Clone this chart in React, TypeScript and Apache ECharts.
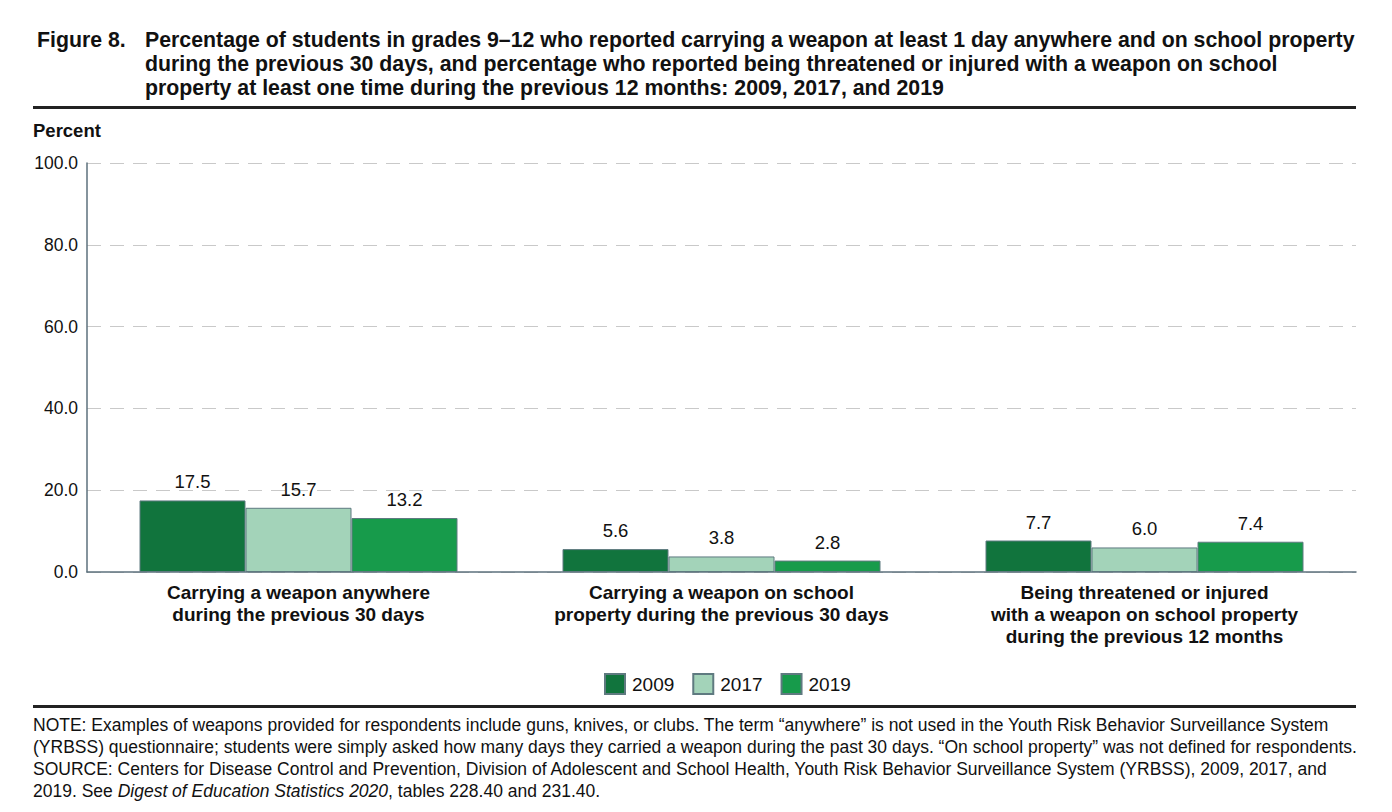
import React, { useEffect, useRef } from "react";
import * as echarts from "echarts";

const categories = [
  "Carrying a weapon anywhere\nduring the previous 30 days",
  "Carrying a weapon on school\nproperty during the previous 30 days",
  "Being threatened or injured\nwith a weapon on school property\nduring the previous 12 months",
];
const seriesNames = ["2009", "2017", "2019"];
const values2009 = [17.5, 5.6, 7.7];
const values2017 = [15.7, 3.8, 6.0];
const values2019 = [13.2, 2.8, 7.4];
const seriesColors = ["#11743d", "#a3d3b9", "#179b4b"];

const titleLines = [
  "Percentage of students in grades 9–12 who reported carrying a weapon at least 1 day anywhere and on school property",
  "during the previous 30 days, and percentage who reported being threatened or injured with a weapon on school",
  "property at least one time during the previous 12 months: 2009, 2017, and 2019",
];
const noteLines = [
  "NOTE: Examples of weapons provided for respondents include guns, knives, or clubs. The term “anywhere” is not used in the Youth Risk Behavior Surveillance System",
  "(YRBSS) questionnaire; students were simply asked how many days they carried a weapon during the past 30 days. “On school property” was not defined for respondents.",
  "SOURCE: Centers for Disease Control and Prevention, Division of Adolescent and School Health, Youth Risk Behavior Surveillance System (YRBSS), 2009, 2017, and",
];

const FONT = "'Liberation Sans', Arial, sans-serif";

export default function App() {
  const ref = useRef<HTMLDivElement>(null);
  useEffect(() => {
    document.body.style.margin = "0";
    const chart = echarts.init(ref.current!, null, { renderer: "svg" });
    const data = [values2009, values2017, values2019];
    const axisColor = "#5d717d";
    chart.setOption({
      animation: false,
      textStyle: { fontFamily: FONT },
      grid: { left: 87, right: 36, top: 163, bottom: 240 },
      legend: {
        data: seriesNames,
        left: 604,
        top: 673,
        padding: 0,
        itemWidth: 20,
        itemHeight: 20,
        itemGap: 18,
        icon: "rect",
        textStyle: { fontSize: 19, color: "#111", fontFamily: FONT, padding: [0, 0, 0, 2] },
      },
      xAxis: {
        type: "category",
        data: categories,
        axisLine: { lineStyle: { color: axisColor, width: 1.5 } },
        axisTick: { show: false },
        axisLabel: {
          fontSize: 19,
          fontWeight: "bold",
          color: "#111",
          lineHeight: 22,
          margin: 9,
          fontFamily: FONT,
          interval: 0,
        },
      },
      yAxis: {
        type: "value",
        min: 0,
        max: 100,
        interval: 20,
        axisLine: { show: true, lineStyle: { color: axisColor, width: 1.5 } },
        axisTick: { show: false },
        axisLabel: {
          formatter: (v: number) => v.toFixed(1),
          fontSize: 17.5,
          color: "#111",
          margin: 9,
          fontFamily: FONT,
        },
        splitLine: {
          lineStyle: { color: "#c9c9c9", type: [14, 9], width: 1 },
        },
      },
      series: seriesNames.map((name, i) => ({
        name,
        type: "bar",
        data: data[i],
        barWidth: 106,
        barGap: "0%",
        itemStyle: {
          color: seriesColors[i],
          borderColor: "#5f7a80",
          borderWidth: 1,
        },
        label: {
          show: true,
          position: "top",
          distance: 9,
          formatter: (p: any) => Number(p.value).toFixed(1),
          fontSize: 18.5,
          color: "#111",
          fontFamily: FONT,
        },
      })),
      graphic: [
        {
          type: "text",
          left: 37,
          top: 29,
          style: { text: "Figure 8.", font: `bold 21.3px ${FONT}`, fill: "#111" },
        },
        ...titleLines.map((t, i) => ({
          type: "text",
          left: 145,
          top: 29 + i * 24,
          style: { text: t, font: `bold 21.3px ${FONT}`, fill: "#111" },
        })),
        {
          type: "rect",
          shape: { x: 33, y: 106, width: 1323, height: 3 },
          style: { fill: "#222" },
        },
        {
          type: "text",
          left: 33,
          top: 121,
          style: { text: "Percent", font: `bold 18.5px ${FONT}`, fill: "#111" },
        },
        {
          type: "rect",
          shape: { x: 33, y: 705, width: 1323, height: 3 },
          style: { fill: "#222" },
        },
        ...noteLines.map((t, i) => ({
          type: "text",
          left: 33,
          top: 716 + i * 22,
          style: { text: t, font: `17.5px ${FONT}`, fill: "#111" },
        })),
        {
          type: "text",
          left: 33,
          top: 716 + 3 * 22,
          style: {
            rich: {
              n: { font: `17.5px ${FONT}`, fill: "#111" },
              i: { font: `italic 17.5px ${FONT}`, fill: "#111" },
            },
            text: "{n|2019. See }{i|Digest of Education Statistics 2020}{n|, tables 228.40 and 231.40.}",
          },
        },
      ],
    });
    return () => chart.dispose();
  }, []);
  return (
    <div
      ref={ref}
      style={{ position: "absolute", left: 0, top: 0, width: 1392, height: 812, background: "#fff" }}
    />
  );
}
